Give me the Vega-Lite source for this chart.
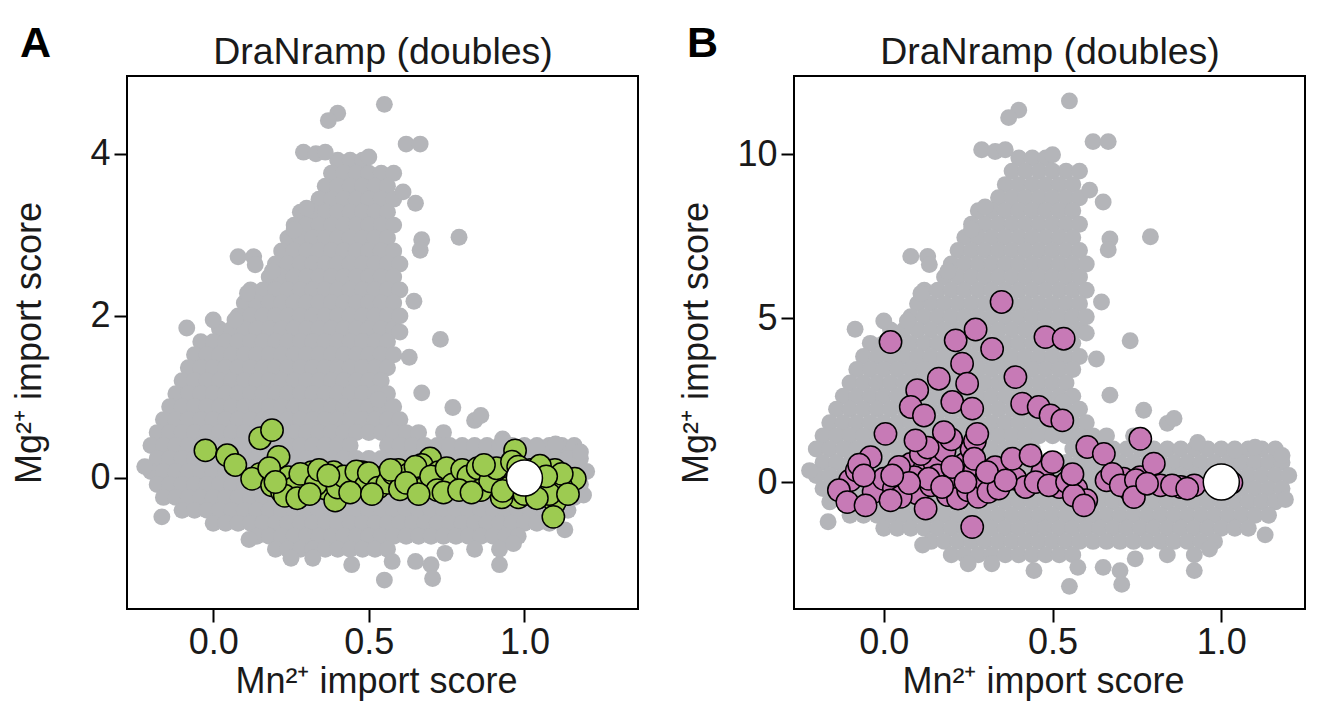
{
"$schema":"https://vega.github.io/schema/vega-lite/v6.json",
"background":"white",
"padding":{"left":10,"top":22,"right":5,"bottom":5},
"config":{"font":"Liberation Sans","view":{"stroke":"black","strokeWidth":2},
"axis":{"domain":false,"grid":false,"ticks":true,"tickColor":"black","tickWidth":2,"tickSize":13,"labelFontSize":36,"labelColor":"#1a1a1a","titleFontSize":36,"titleFontWeight":"normal","titleColor":"#1a1a1a"},
"axisX":{"labelPadding":3,"titlePadding":4},
"axisY":{"labelPadding":4},
"title":{"fontSize":43,"fontWeight":"bold","color":"black","anchor":"start","frame":"group"}},
"bounds":"flush",
"spacing":156,
"datasets":{
"wt":[{"x":1,"y":0}],
"grey":[
{"x":0.4,"a":3.92,"b":9.88},{"x":0.44,"a":3.92,"b":9.88},{"x":0.48,"a":3.92,"b":9.88},
{"x":0.38,"a":3.76,"b":9.48},{"x":0.42,"a":3.76,"b":9.48},{"x":0.46,"a":3.76,"b":9.48},{"x":0.5,"a":3.76,"b":9.48},{"x":0.54,"a":3.76,"b":9.48},{"x":0.58,"a":3.76,"b":9.48},
{"x":0.36,"a":3.6,"b":9.07},{"x":0.4,"a":3.6,"b":9.07},{"x":0.44,"a":3.6,"b":9.07},{"x":0.48,"a":3.6,"b":9.07},{"x":0.52,"a":3.6,"b":9.07},{"x":0.56,"a":3.6,"b":9.07},
{"x":0.34,"a":3.44,"b":8.67},{"x":0.38,"a":3.44,"b":8.67},{"x":0.42,"a":3.44,"b":8.67},{"x":0.46,"a":3.44,"b":8.67},{"x":0.5,"a":3.44,"b":8.67},{"x":0.54,"a":3.44,"b":8.67},{"x":0.58,"a":3.44,"b":8.67},
{"x":0.28,"a":3.28,"b":8.27},{"x":0.32,"a":3.28,"b":8.27},{"x":0.36,"a":3.28,"b":8.27},{"x":0.4,"a":3.28,"b":8.27},{"x":0.44,"a":3.28,"b":8.27},{"x":0.48,"a":3.28,"b":8.27},{"x":0.52,"a":3.28,"b":8.27},{"x":0.56,"a":3.28,"b":8.27},
{"x":0.26,"a":3.12,"b":7.86},{"x":0.3,"a":3.12,"b":7.86},{"x":0.34,"a":3.12,"b":7.86},{"x":0.38,"a":3.12,"b":7.86},{"x":0.42,"a":3.12,"b":7.86},{"x":0.46,"a":3.12,"b":7.86},{"x":0.5,"a":3.12,"b":7.86},{"x":0.54,"a":3.12,"b":7.86},{"x":0.58,"a":3.12,"b":7.86},
{"x":0.24,"a":2.96,"b":7.46},{"x":0.28,"a":2.96,"b":7.46},{"x":0.32,"a":2.96,"b":7.46},{"x":0.36,"a":2.96,"b":7.46},{"x":0.4,"a":2.96,"b":7.46},{"x":0.44,"a":2.96,"b":7.46},{"x":0.48,"a":2.96,"b":7.46},{"x":0.52,"a":2.96,"b":7.46},{"x":0.56,"a":2.96,"b":7.46},
{"x":0.22,"a":2.8,"b":7.06},{"x":0.26,"a":2.8,"b":7.06},{"x":0.3,"a":2.8,"b":7.06},{"x":0.34,"a":2.8,"b":7.06},{"x":0.38,"a":2.8,"b":7.06},{"x":0.42,"a":2.8,"b":7.06},{"x":0.46,"a":2.8,"b":7.06},{"x":0.5,"a":2.8,"b":7.06},{"x":0.54,"a":2.8,"b":7.06},{"x":0.58,"a":2.8,"b":7.06},
{"x":0.2,"a":2.64,"b":6.65},{"x":0.24,"a":2.64,"b":6.65},{"x":0.28,"a":2.64,"b":6.65},{"x":0.32,"a":2.64,"b":6.65},{"x":0.36,"a":2.64,"b":6.65},{"x":0.4,"a":2.64,"b":6.65},{"x":0.44,"a":2.64,"b":6.65},{"x":0.48,"a":2.64,"b":6.65},{"x":0.52,"a":2.64,"b":6.65},{"x":0.56,"a":2.64,"b":6.65},{"x":0.6,"a":2.64,"b":6.65},
{"x":0.18,"a":2.48,"b":6.25},{"x":0.22,"a":2.48,"b":6.25},{"x":0.26,"a":2.48,"b":6.25},{"x":0.3,"a":2.48,"b":6.25},{"x":0.34,"a":2.48,"b":6.25},{"x":0.38,"a":2.48,"b":6.25},{"x":0.42,"a":2.48,"b":6.25},{"x":0.46,"a":2.48,"b":6.25},{"x":0.5,"a":2.48,"b":6.25},{"x":0.54,"a":2.48,"b":6.25},{"x":0.58,"a":2.48,"b":6.25},
{"x":0.12,"a":2.32,"b":5.85},{"x":0.16,"a":2.32,"b":5.85},{"x":0.2,"a":2.32,"b":5.85},{"x":0.24,"a":2.32,"b":5.85},{"x":0.28,"a":2.32,"b":5.85},{"x":0.32,"a":2.32,"b":5.85},{"x":0.36,"a":2.32,"b":5.85},{"x":0.4,"a":2.32,"b":5.85},{"x":0.44,"a":2.32,"b":5.85},{"x":0.48,"a":2.32,"b":5.85},{"x":0.52,"a":2.32,"b":5.85},{"x":0.56,"a":2.32,"b":5.85},{"x":0.6,"a":2.32,"b":5.85},
{"x":0.1,"a":2.16,"b":5.44},{"x":0.14,"a":2.16,"b":5.44},{"x":0.18,"a":2.16,"b":5.44},{"x":0.22,"a":2.16,"b":5.44},{"x":0.26,"a":2.16,"b":5.44},{"x":0.3,"a":2.16,"b":5.44},{"x":0.34,"a":2.16,"b":5.44},{"x":0.38,"a":2.16,"b":5.44},{"x":0.42,"a":2.16,"b":5.44},{"x":0.46,"a":2.16,"b":5.44},{"x":0.5,"a":2.16,"b":5.44},{"x":0.54,"a":2.16,"b":5.44},{"x":0.58,"a":2.16,"b":5.44},
{"x":0.08,"a":2.0,"b":5.04},{"x":0.12,"a":2.0,"b":5.04},{"x":0.16,"a":2.0,"b":5.04},{"x":0.2,"a":2.0,"b":5.04},{"x":0.24,"a":2.0,"b":5.04},{"x":0.28,"a":2.0,"b":5.04},{"x":0.32,"a":2.0,"b":5.04},{"x":0.36,"a":2.0,"b":5.04},{"x":0.4,"a":2.0,"b":5.04},{"x":0.44,"a":2.0,"b":5.04},{"x":0.48,"a":2.0,"b":5.04},{"x":0.52,"a":2.0,"b":5.04},{"x":0.56,"a":2.0,"b":5.04},
{"x":0.02,"a":1.84,"b":4.64},{"x":0.06,"a":1.84,"b":4.64},{"x":0.1,"a":1.84,"b":4.64},{"x":0.14,"a":1.84,"b":4.64},{"x":0.18,"a":1.84,"b":4.64},{"x":0.22,"a":1.84,"b":4.64},{"x":0.26,"a":1.84,"b":4.64},{"x":0.3,"a":1.84,"b":4.64},{"x":0.34,"a":1.84,"b":4.64},{"x":0.38,"a":1.84,"b":4.64},{"x":0.42,"a":1.84,"b":4.64},{"x":0.46,"a":1.84,"b":4.64},{"x":0.5,"a":1.84,"b":4.64},{"x":0.54,"a":1.84,"b":4.64},{"x":0.58,"a":1.84,"b":4.64},
{"x":-0.04,"a":1.68,"b":4.23},{"x":0,"a":1.68,"b":4.23},{"x":0.04,"a":1.68,"b":4.23},{"x":0.08,"a":1.68,"b":4.23},{"x":0.12,"a":1.68,"b":4.23},{"x":0.16,"a":1.68,"b":4.23},{"x":0.2,"a":1.68,"b":4.23},{"x":0.24,"a":1.68,"b":4.23},{"x":0.28,"a":1.68,"b":4.23},{"x":0.32,"a":1.68,"b":4.23},{"x":0.36,"a":1.68,"b":4.23},{"x":0.4,"a":1.68,"b":4.23},{"x":0.44,"a":1.68,"b":4.23},{"x":0.48,"a":1.68,"b":4.23},{"x":0.52,"a":1.68,"b":4.23},{"x":0.56,"a":1.68,"b":4.23},
{"x":-0.06,"a":1.52,"b":3.83},{"x":-0.02,"a":1.52,"b":3.83},{"x":0.02,"a":1.52,"b":3.83},{"x":0.06,"a":1.52,"b":3.83},{"x":0.1,"a":1.52,"b":3.83},{"x":0.14,"a":1.52,"b":3.83},{"x":0.18,"a":1.52,"b":3.83},{"x":0.22,"a":1.52,"b":3.83},{"x":0.26,"a":1.52,"b":3.83},{"x":0.3,"a":1.52,"b":3.83},{"x":0.34,"a":1.52,"b":3.83},{"x":0.38,"a":1.52,"b":3.83},{"x":0.42,"a":1.52,"b":3.83},{"x":0.46,"a":1.52,"b":3.83},{"x":0.5,"a":1.52,"b":3.83},{"x":0.54,"a":1.52,"b":3.83},{"x":0.58,"a":1.52,"b":3.83},
{"x":-0.08,"a":1.36,"b":3.43},{"x":-0.04,"a":1.36,"b":3.43},{"x":0,"a":1.36,"b":3.43},{"x":0.04,"a":1.36,"b":3.43},{"x":0.08,"a":1.36,"b":3.43},{"x":0.12,"a":1.36,"b":3.43},{"x":0.16,"a":1.36,"b":3.43},{"x":0.2,"a":1.36,"b":3.43},{"x":0.24,"a":1.36,"b":3.43},{"x":0.28,"a":1.36,"b":3.43},{"x":0.32,"a":1.36,"b":3.43},{"x":0.36,"a":1.36,"b":3.43},{"x":0.4,"a":1.36,"b":3.43},{"x":0.44,"a":1.36,"b":3.43},{"x":0.48,"a":1.36,"b":3.43},{"x":0.52,"a":1.36,"b":3.43},{"x":0.56,"a":1.36,"b":3.43},
{"x":-0.1,"a":1.2,"b":3.02},{"x":-0.06,"a":1.2,"b":3.02},{"x":-0.02,"a":1.2,"b":3.02},{"x":0.02,"a":1.2,"b":3.02},{"x":0.06,"a":1.2,"b":3.02},{"x":0.1,"a":1.2,"b":3.02},{"x":0.14,"a":1.2,"b":3.02},{"x":0.18,"a":1.2,"b":3.02},{"x":0.22,"a":1.2,"b":3.02},{"x":0.26,"a":1.2,"b":3.02},{"x":0.3,"a":1.2,"b":3.02},{"x":0.34,"a":1.2,"b":3.02},{"x":0.38,"a":1.2,"b":3.02},{"x":0.42,"a":1.2,"b":3.02},{"x":0.46,"a":1.2,"b":3.02},{"x":0.5,"a":1.2,"b":3.02},{"x":0.54,"a":1.2,"b":3.02},
{"x":-0.12,"a":1.04,"b":2.62},{"x":-0.08,"a":1.04,"b":2.62},{"x":-0.04,"a":1.04,"b":2.62},{"x":0,"a":1.04,"b":2.62},{"x":0.04,"a":1.04,"b":2.62},{"x":0.08,"a":1.04,"b":2.62},{"x":0.12,"a":1.04,"b":2.62},{"x":0.16,"a":1.04,"b":2.62},{"x":0.2,"a":1.04,"b":2.62},{"x":0.24,"a":1.04,"b":2.62},{"x":0.28,"a":1.04,"b":2.62},{"x":0.32,"a":1.04,"b":2.62},{"x":0.36,"a":1.04,"b":2.62},{"x":0.4,"a":1.04,"b":2.62},{"x":0.44,"a":1.04,"b":2.62},{"x":0.48,"a":1.04,"b":2.62},{"x":0.52,"a":1.04,"b":2.62},{"x":0.56,"a":1.04,"b":2.62},
{"x":-0.14,"a":0.88,"b":2.22},{"x":-0.1,"a":0.88,"b":2.22},{"x":-0.06,"a":0.88,"b":2.22},{"x":-0.02,"a":0.88,"b":2.22},{"x":0.02,"a":0.88,"b":2.22},{"x":0.06,"a":0.88,"b":2.22},{"x":0.1,"a":0.88,"b":2.22},{"x":0.14,"a":0.88,"b":2.22},{"x":0.18,"a":0.88,"b":2.22},{"x":0.22,"a":0.88,"b":2.22},{"x":0.26,"a":0.88,"b":2.22},{"x":0.3,"a":0.88,"b":2.22},{"x":0.34,"a":0.88,"b":2.22},{"x":0.38,"a":0.88,"b":2.22},{"x":0.42,"a":0.88,"b":2.22},{"x":0.46,"a":0.88,"b":2.22},{"x":0.5,"a":0.88,"b":2.22},{"x":0.54,"a":0.88,"b":2.22},{"x":0.58,"a":0.88,"b":2.22},
{"x":-0.16,"a":0.72,"b":1.81},{"x":-0.12,"a":0.72,"b":1.81},{"x":-0.08,"a":0.72,"b":1.81},{"x":-0.04,"a":0.72,"b":1.81},{"x":0,"a":0.72,"b":1.81},{"x":0.04,"a":0.72,"b":1.81},{"x":0.08,"a":0.72,"b":1.81},{"x":0.12,"a":0.72,"b":1.81},{"x":0.16,"a":0.72,"b":1.81},{"x":0.2,"a":0.72,"b":1.81},{"x":0.24,"a":0.72,"b":1.81},{"x":0.28,"a":0.72,"b":1.81},{"x":0.32,"a":0.72,"b":1.81},{"x":0.36,"a":0.72,"b":1.81},{"x":0.4,"a":0.72,"b":1.81},{"x":0.44,"a":0.72,"b":1.81},{"x":0.48,"a":0.72,"b":1.81},{"x":0.52,"a":0.72,"b":1.81},{"x":0.56,"a":0.72,"b":1.81},{"x":0.6,"a":0.72,"b":1.81},
{"x":-0.18,"a":0.56,"b":1.41},{"x":-0.14,"a":0.56,"b":1.41},{"x":-0.1,"a":0.56,"b":1.41},{"x":-0.06,"a":0.56,"b":1.41},{"x":-0.02,"a":0.56,"b":1.41},{"x":0.02,"a":0.56,"b":1.41},{"x":0.06,"a":0.56,"b":1.41},{"x":0.1,"a":0.56,"b":1.41},{"x":0.14,"a":0.56,"b":1.41},{"x":0.18,"a":0.56,"b":1.41},{"x":0.22,"a":0.56,"b":1.41},{"x":0.26,"a":0.56,"b":1.41},{"x":0.3,"a":0.56,"b":1.41},{"x":0.34,"a":0.56,"b":1.41},{"x":0.38,"a":0.56,"b":1.41},{"x":0.42,"a":0.56,"b":1.41},{"x":0.46,"a":0.56,"b":1.41},{"x":0.5,"a":0.56,"b":1.41},{"x":0.54,"a":0.56,"b":1.41},{"x":0.58,"a":0.56,"b":1.41},{"x":0.62,"a":0.56,"b":1.41},{"x":0.66,"a":0.56,"b":1.41},{"x":0.74,"a":0.56,"b":1.41},
{"x":-0.2,"a":0.4,"b":1.01},{"x":-0.16,"a":0.4,"b":1.01},{"x":-0.12,"a":0.4,"b":1.01},{"x":-0.08,"a":0.4,"b":1.01},{"x":-0.04,"a":0.4,"b":1.01},{"x":0,"a":0.4,"b":1.01},{"x":0.04,"a":0.4,"b":1.01},{"x":0.08,"a":0.4,"b":1.01},{"x":0.12,"a":0.4,"b":1.01},{"x":0.16,"a":0.4,"b":1.01},{"x":0.2,"a":0.4,"b":1.01},{"x":0.24,"a":0.4,"b":1.01},{"x":0.28,"a":0.4,"b":1.01},{"x":0.32,"a":0.4,"b":1.01},{"x":0.36,"a":0.4,"b":1.01},{"x":0.4,"a":0.4,"b":1.01},{"x":0.44,"a":0.4,"b":1.01},{"x":0.56,"a":0.4,"b":1.01},{"x":0.6,"a":0.4,"b":1.01},{"x":0.64,"a":0.4,"b":1.01},{"x":0.68,"a":0.4,"b":1.01},{"x":0.72,"a":0.4,"b":1.01},{"x":0.76,"a":0.4,"b":1.01},{"x":0.8,"a":0.4,"b":1.01},{"x":0.84,"a":0.4,"b":1.01},{"x":0.88,"a":0.4,"b":1.01},{"x":0.92,"a":0.4,"b":1.01},{"x":0.96,"a":0.4,"b":1.01},{"x":1,"a":0.4,"b":1.01},{"x":1.04,"a":0.4,"b":1.01},{"x":1.08,"a":0.4,"b":1.01},{"x":1.12,"a":0.4,"b":1.01},{"x":1.16,"a":0.4,"b":1.01},
{"x":-0.18,"a":0.24,"b":0.6},{"x":-0.14,"a":0.24,"b":0.6},{"x":-0.1,"a":0.24,"b":0.6},{"x":-0.06,"a":0.24,"b":0.6},{"x":-0.02,"a":0.24,"b":0.6},{"x":0.02,"a":0.24,"b":0.6},{"x":0.06,"a":0.24,"b":0.6},{"x":0.1,"a":0.24,"b":0.6},{"x":0.14,"a":0.24,"b":0.6},{"x":0.18,"a":0.24,"b":0.6},{"x":0.22,"a":0.24,"b":0.6},{"x":0.26,"a":0.24,"b":0.6},{"x":0.3,"a":0.24,"b":0.6},{"x":0.34,"a":0.24,"b":0.6},{"x":0.38,"a":0.24,"b":0.6},{"x":0.42,"a":0.24,"b":0.6},{"x":0.46,"a":0.24,"b":0.6},{"x":0.5,"a":0.24,"b":0.6},{"x":0.54,"a":0.24,"b":0.6},{"x":0.58,"a":0.24,"b":0.6},{"x":0.62,"a":0.24,"b":0.6},{"x":0.66,"a":0.24,"b":0.6},{"x":0.7,"a":0.24,"b":0.6},{"x":0.74,"a":0.24,"b":0.6},{"x":0.78,"a":0.24,"b":0.6},{"x":0.82,"a":0.24,"b":0.6},{"x":0.86,"a":0.24,"b":0.6},{"x":0.9,"a":0.24,"b":0.6},{"x":0.94,"a":0.24,"b":0.6},{"x":0.98,"a":0.24,"b":0.6},{"x":1.02,"a":0.24,"b":0.6},{"x":1.06,"a":0.24,"b":0.6},{"x":1.1,"a":0.24,"b":0.6},{"x":1.14,"a":0.24,"b":0.6},{"x":1.18,"a":0.24,"b":0.6},
{"x":-0.2,"a":0.08,"b":0.2},{"x":-0.16,"a":0.08,"b":0.2},{"x":-0.12,"a":0.08,"b":0.2},{"x":-0.08,"a":0.08,"b":0.2},{"x":-0.04,"a":0.08,"b":0.2},{"x":0,"a":0.08,"b":0.2},{"x":0.04,"a":0.08,"b":0.2},{"x":0.08,"a":0.08,"b":0.2},{"x":0.12,"a":0.08,"b":0.2},{"x":0.16,"a":0.08,"b":0.2},{"x":0.2,"a":0.08,"b":0.2},{"x":0.24,"a":0.08,"b":0.2},{"x":0.28,"a":0.08,"b":0.2},{"x":0.32,"a":0.08,"b":0.2},{"x":0.36,"a":0.08,"b":0.2},{"x":0.4,"a":0.08,"b":0.2},{"x":0.44,"a":0.08,"b":0.2},{"x":0.48,"a":0.08,"b":0.2},{"x":0.52,"a":0.08,"b":0.2},{"x":0.56,"a":0.08,"b":0.2},{"x":0.6,"a":0.08,"b":0.2},{"x":0.64,"a":0.08,"b":0.2},{"x":0.68,"a":0.08,"b":0.2},{"x":0.72,"a":0.08,"b":0.2},{"x":0.76,"a":0.08,"b":0.2},{"x":0.8,"a":0.08,"b":0.2},{"x":0.84,"a":0.08,"b":0.2},{"x":0.88,"a":0.08,"b":0.2},{"x":0.92,"a":0.08,"b":0.2},{"x":0.96,"a":0.08,"b":0.2},{"x":1,"a":0.08,"b":0.2},{"x":1.04,"a":0.08,"b":0.2},{"x":1.08,"a":0.08,"b":0.2},{"x":1.12,"a":0.08,"b":0.2},{"x":1.16,"a":0.08,"b":0.2},{"x":1.2,"a":0.08,"b":0.2},
{"x":-0.18,"a":-0.08,"b":-0.2},{"x":-0.14,"a":-0.08,"b":-0.2},{"x":-0.1,"a":-0.08,"b":-0.2},{"x":-0.06,"a":-0.08,"b":-0.2},{"x":-0.02,"a":-0.08,"b":-0.2},{"x":0.02,"a":-0.08,"b":-0.2},{"x":0.06,"a":-0.08,"b":-0.2},{"x":0.1,"a":-0.08,"b":-0.2},{"x":0.14,"a":-0.08,"b":-0.2},{"x":0.18,"a":-0.08,"b":-0.2},{"x":0.22,"a":-0.08,"b":-0.2},{"x":0.26,"a":-0.08,"b":-0.2},{"x":0.3,"a":-0.08,"b":-0.2},{"x":0.34,"a":-0.08,"b":-0.2},{"x":0.38,"a":-0.08,"b":-0.2},{"x":0.42,"a":-0.08,"b":-0.2},{"x":0.46,"a":-0.08,"b":-0.2},{"x":0.5,"a":-0.08,"b":-0.2},{"x":0.54,"a":-0.08,"b":-0.2},{"x":0.58,"a":-0.08,"b":-0.2},{"x":0.62,"a":-0.08,"b":-0.2},{"x":0.66,"a":-0.08,"b":-0.2},{"x":0.7,"a":-0.08,"b":-0.2},{"x":0.74,"a":-0.08,"b":-0.2},{"x":0.78,"a":-0.08,"b":-0.2},{"x":0.82,"a":-0.08,"b":-0.2},{"x":0.86,"a":-0.08,"b":-0.2},{"x":0.9,"a":-0.08,"b":-0.2},{"x":0.94,"a":-0.08,"b":-0.2},{"x":0.98,"a":-0.08,"b":-0.2},{"x":1.02,"a":-0.08,"b":-0.2},{"x":1.06,"a":-0.08,"b":-0.2},{"x":1.1,"a":-0.08,"b":-0.2},{"x":1.14,"a":-0.08,"b":-0.2},{"x":1.18,"a":-0.08,"b":-0.2},
{"x":-0.16,"a":-0.24,"b":-0.6},{"x":-0.12,"a":-0.24,"b":-0.6},{"x":-0.08,"a":-0.24,"b":-0.6},{"x":-0.04,"a":-0.24,"b":-0.6},{"x":0,"a":-0.24,"b":-0.6},{"x":0.04,"a":-0.24,"b":-0.6},{"x":0.08,"a":-0.24,"b":-0.6},{"x":0.12,"a":-0.24,"b":-0.6},{"x":0.16,"a":-0.24,"b":-0.6},{"x":0.2,"a":-0.24,"b":-0.6},{"x":0.24,"a":-0.24,"b":-0.6},{"x":0.28,"a":-0.24,"b":-0.6},{"x":0.32,"a":-0.24,"b":-0.6},{"x":0.36,"a":-0.24,"b":-0.6},{"x":0.4,"a":-0.24,"b":-0.6},{"x":0.44,"a":-0.24,"b":-0.6},{"x":0.48,"a":-0.24,"b":-0.6},{"x":0.52,"a":-0.24,"b":-0.6},{"x":0.56,"a":-0.24,"b":-0.6},{"x":0.6,"a":-0.24,"b":-0.6},{"x":0.64,"a":-0.24,"b":-0.6},{"x":0.68,"a":-0.24,"b":-0.6},{"x":0.72,"a":-0.24,"b":-0.6},{"x":0.76,"a":-0.24,"b":-0.6},{"x":0.8,"a":-0.24,"b":-0.6},{"x":0.84,"a":-0.24,"b":-0.6},{"x":0.88,"a":-0.24,"b":-0.6},{"x":0.92,"a":-0.24,"b":-0.6},{"x":0.96,"a":-0.24,"b":-0.6},{"x":1,"a":-0.24,"b":-0.6},{"x":1.04,"a":-0.24,"b":-0.6},{"x":1.08,"a":-0.24,"b":-0.6},{"x":1.12,"a":-0.24,"b":-0.6},{"x":1.16,"a":-0.24,"b":-0.6},
{"x":-0.1,"a":-0.4,"b":-1.01},{"x":-0.06,"a":-0.4,"b":-1.01},{"x":-0.02,"a":-0.4,"b":-1.01},{"x":0.02,"a":-0.4,"b":-1.01},{"x":0.06,"a":-0.4,"b":-1.01},{"x":0.1,"a":-0.4,"b":-1.01},{"x":0.14,"a":-0.4,"b":-1.01},{"x":0.18,"a":-0.4,"b":-1.01},{"x":0.22,"a":-0.4,"b":-1.01},{"x":0.26,"a":-0.4,"b":-1.01},{"x":0.3,"a":-0.4,"b":-1.01},{"x":0.34,"a":-0.4,"b":-1.01},{"x":0.38,"a":-0.4,"b":-1.01},{"x":0.42,"a":-0.4,"b":-1.01},{"x":0.46,"a":-0.4,"b":-1.01},{"x":0.5,"a":-0.4,"b":-1.01},{"x":0.54,"a":-0.4,"b":-1.01},{"x":0.58,"a":-0.4,"b":-1.01},{"x":0.62,"a":-0.4,"b":-1.01},{"x":0.66,"a":-0.4,"b":-1.01},{"x":0.7,"a":-0.4,"b":-1.01},{"x":0.74,"a":-0.4,"b":-1.01},{"x":0.78,"a":-0.4,"b":-1.01},{"x":0.82,"a":-0.4,"b":-1.01},{"x":0.86,"a":-0.4,"b":-1.01},{"x":0.9,"a":-0.4,"b":-1.01},{"x":0.94,"a":-0.4,"b":-1.01},{"x":0.98,"a":-0.4,"b":-1.01},{"x":1.02,"a":-0.4,"b":-1.01},{"x":1.06,"a":-0.4,"b":-1.01},{"x":1.1,"a":-0.4,"b":-1.01},{"x":1.14,"a":-0.4,"b":-1.01},
{"x":0,"a":-0.56,"b":-1.41},{"x":0.04,"a":-0.56,"b":-1.41},{"x":0.08,"a":-0.56,"b":-1.41},{"x":0.12,"a":-0.56,"b":-1.41},{"x":0.16,"a":-0.56,"b":-1.41},{"x":0.2,"a":-0.56,"b":-1.41},{"x":0.24,"a":-0.56,"b":-1.41},{"x":0.28,"a":-0.56,"b":-1.41},{"x":0.32,"a":-0.56,"b":-1.41},{"x":0.36,"a":-0.56,"b":-1.41},{"x":0.4,"a":-0.56,"b":-1.41},{"x":0.44,"a":-0.56,"b":-1.41},{"x":0.48,"a":-0.56,"b":-1.41},{"x":0.52,"a":-0.56,"b":-1.41},{"x":0.56,"a":-0.56,"b":-1.41},{"x":0.6,"a":-0.56,"b":-1.41},{"x":0.64,"a":-0.56,"b":-1.41},{"x":0.68,"a":-0.56,"b":-1.41},{"x":0.72,"a":-0.56,"b":-1.41},{"x":0.76,"a":-0.56,"b":-1.41},{"x":0.8,"a":-0.56,"b":-1.41},{"x":0.84,"a":-0.56,"b":-1.41},{"x":0.88,"a":-0.56,"b":-1.41},{"x":0.92,"a":-0.56,"b":-1.41},{"x":0.96,"a":-0.56,"b":-1.41},{"x":1,"a":-0.56,"b":-1.41},{"x":1.04,"a":-0.56,"b":-1.41},{"x":1.08,"a":-0.56,"b":-1.41},
{"x":0.14,"a":-0.72,"b":-1.81},{"x":0.18,"a":-0.72,"b":-1.81},{"x":0.22,"a":-0.72,"b":-1.81},{"x":0.26,"a":-0.72,"b":-1.81},{"x":0.3,"a":-0.72,"b":-1.81},{"x":0.34,"a":-0.72,"b":-1.81},{"x":0.38,"a":-0.72,"b":-1.81},{"x":0.42,"a":-0.72,"b":-1.81},{"x":0.46,"a":-0.72,"b":-1.81},{"x":0.5,"a":-0.72,"b":-1.81},{"x":0.54,"a":-0.72,"b":-1.81},{"x":0.58,"a":-0.72,"b":-1.81},{"x":0.62,"a":-0.72,"b":-1.81},{"x":0.66,"a":-0.72,"b":-1.81},{"x":0.7,"a":-0.72,"b":-1.81},{"x":0.74,"a":-0.72,"b":-1.81},{"x":0.78,"a":-0.72,"b":-1.81},{"x":0.82,"a":-0.72,"b":-1.81},{"x":0.86,"a":-0.72,"b":-1.81},{"x":0.9,"a":-0.72,"b":-1.81},{"x":0.94,"a":-0.72,"b":-1.81},{"x":0.98,"a":-0.72,"b":-1.81},
{"x":0.2,"a":-0.88,"b":-2.22},{"x":0.24,"a":-0.88,"b":-2.22},{"x":0.28,"a":-0.88,"b":-2.22},{"x":0.32,"a":-0.88,"b":-2.22},{"x":0.36,"a":-0.88,"b":-2.22},{"x":0.4,"a":-0.88,"b":-2.22},{"x":0.44,"a":-0.88,"b":-2.22},{"x":0.48,"a":-0.88,"b":-2.22},{"x":0.52,"a":-0.88,"b":-2.22},{"x":0.56,"a":-0.88,"b":-2.22},{"x":0.84,"a":-0.88,"b":-2.22},{"x":0.92,"a":-0.88,"b":-2.22},
{"x":0.55,"a":4.61,"b":11.62},{"x":0.4,"a":4.5,"b":11.34},{"x":0.37,"a":4.41,"b":11.11},{"x":0.29,"a":4.02,"b":10.13},{"x":0.33,"a":4.0,"b":10.08},{"x":0.36,"a":4.02,"b":10.13},{"x":0.5,"a":3.96,"b":9.98},{"x":0.62,"a":4.12,"b":10.38},{"x":0.665,"a":4.12,"b":10.38},{"x":0.61,"a":3.53,"b":8.9},{"x":0.65,"a":3.39,"b":8.54},{"x":0.79,"a":2.97,"b":7.48},{"x":0.67,"a":2.94,"b":7.41},{"x":0.665,"a":2.81,"b":7.08},{"x":0.3,"a":3.33,"b":8.39},{"x":0.26,"a":3.06,"b":7.71},{"x":0.08,"a":2.73,"b":6.88},{"x":0.13,"a":2.73,"b":6.88},{"x":0.135,"a":2.63,"b":6.63},{"x":0.19,"a":2.55,"b":6.43},{"x":0.11,"a":2.28,"b":5.75},{"x":-0.085,"a":1.85,"b":4.66},{"x":0,"a":1.95,"b":4.91},{"x":0.07,"a":1.95,"b":4.91},{"x":0.645,"a":2.18,"b":5.49},{"x":0.73,"a":1.71,"b":4.31},{"x":0.63,"a":1.49,"b":3.75},{"x":0.67,"a":1.05,"b":2.65},{"x":0.77,"a":0.87,"b":2.19},{"x":0.84,"a":0.71,"b":1.79},{"x":0.86,"a":0.77,"b":1.94},{"x":0.93,"a":0.48,"b":1.21},{"x":1.04,"a":0.38,"b":0.96},{"x":1.1,"a":0.42,"b":1.06},{"x":1.18,"a":0.32,"b":0.81},{"x":-0.165,"a":-0.48,"b":-1.21},{"x":0.115,"a":-0.76,"b":-1.92},{"x":0.25,"a":-0.99,"b":-2.49},{"x":0.32,"a":-0.99,"b":-2.49},{"x":0.445,"a":-1.07,"b":-2.7},{"x":0.55,"a":-1.26,"b":-3.18},{"x":0.575,"a":-1.03,"b":-2.6},{"x":0.65,"a":-1.03,"b":-2.6},{"x":0.7,"a":-1.07,"b":-2.7},{"x":0.705,"a":-1.24,"b":-3.12},{"x":0.745,"a":-0.93,"b":-2.34},{"x":0.92,"a":-1.07,"b":-2.7},{"x":0.965,"a":-0.81,"b":-2.04},{"x":1.13,"a":-0.64,"b":-1.61},{"x":1.19,"a":-0.21,"b":-0.53},{"x":-0.22,"a":0.14,"b":0.35},{"x":0.53,"a":0.97,"b":2.44},{"x":0.6,"a":1.8,"b":4.54},{"x":0.6,"a":2.0,"b":5.04}
],
"green":[
{"x":-0.025,"y":0.34},{"x":0.045,"y":0.28},{"x":0.071,"y":0.16},{"x":0.151,"y":0.49},{"x":0.189,"y":0.59},{"x":0.21,"y":0.26},{"x":0.151,"y":0.05},{"x":0.125,"y":-0.01},{"x":0.189,"y":-0.09},{"x":0.242,"y":0.01},{"x":0.221,"y":-0.17},{"x":0.296,"y":-0.01},{"x":0.317,"y":0.07},{"x":0.36,"y":-0.13},{"x":0.392,"y":-0.28},{"x":0.387,"y":0.07},{"x":0.445,"y":-0.09},{"x":0.478,"y":0.07},{"x":0.52,"y":-0.01},{"x":0.552,"y":0.02},{"x":0.595,"y":0.1},{"x":0.617,"y":-0.09},{"x":0.66,"y":-0.01},{"x":0.697,"y":0.24},{"x":0.67,"y":0.16},{"x":0.724,"y":0.07},{"x":0.745,"y":-0.05},{"x":0.788,"y":0.05},{"x":0.809,"y":-0.13},{"x":0.873,"y":0.03},{"x":0.841,"y":-0.09},{"x":0.916,"y":-0.09},{"x":0.938,"y":0.07},{"x":0.97,"y":0.34},{"x":0.981,"y":-0.24},{"x":0.927,"y":-0.24},{"x":1.034,"y":-0.17},{"x":1.066,"y":0.07},{"x":1.098,"y":0.1},{"x":1.162,"y":-0.01},{"x":1.119,"y":-0.11},{"x":1.098,"y":-0.3},{"x":1.093,"y":-0.48},{"x":1.055,"y":-0.09},
{"x":0.26,"y":-0.12},{"x":0.28,"y":0.05},{"x":0.33,"y":-0.08},{"x":0.34,"y":0.1},{"x":0.4,"y":-0.12},{"x":0.42,"y":0.02},{"x":0.46,"y":0.08},{"x":0.49,"y":-0.1},{"x":0.5,"y":0.06},{"x":0.53,"y":-0.12},{"x":0.56,"y":-0.06},{"x":0.58,"y":0.05},{"x":0.6,"y":-0.14},{"x":0.63,"y":0.05},{"x":0.65,"y":0.14},{"x":0.68,"y":-0.12},{"x":0.7,"y":0.02},{"x":0.72,"y":-0.15},{"x":0.75,"y":0.12},{"x":0.77,"y":-0.08},{"x":0.8,"y":0.1},{"x":0.82,"y":0.02},{"x":0.85,"y":0.12},{"x":0.86,"y":-0.15},{"x":0.89,"y":-0.04},{"x":0.91,"y":0.12},{"x":0.95,"y":-0.12},{"x":0.96,"y":0.2},{"x":1.0,"y":-0.2},{"x":1.02,"y":0.1},{"x":1.05,"y":0.15},{"x":1.08,"y":-0.2},{"x":1.12,"y":0.05},{"x":1.14,"y":-0.2},{"x":0.23,"y":-0.22},{"x":0.27,"y":-0.25},{"x":0.18,"y":0.12},{"x":0.2,"y":-0.05},{"x":0.44,"y":-0.18},{"x":0.37,"y":0.03},{"x":0.31,"y":-0.2},{"x":0.51,"y":-0.2},{"x":0.57,"y":0.1},{"x":0.62,"y":-0.06},{"x":0.66,"y":-0.2},{"x":0.74,"y":-0.18},{"x":0.79,"y":-0.15},{"x":0.83,"y":-0.18},{"x":0.87,"y":0.16},{"x":0.93,"y":-0.16},{"x":0.98,"y":0.14},{"x":1.04,"y":-0.25},{"x":1.07,"y":0.02}
],
"pink":[
{"x":-0.1,"y":0.05},{"x":-0.08,"y":0.35},{"x":-0.03,"y":-0.3},{"x":0.0,"y":0.1},{"x":0.03,"y":-0.2},{"x":0.06,"y":0.3},{"x":0.08,"y":0.55},{"x":0.1,"y":-0.35},{"x":0.12,"y":0.4},{"x":0.14,"y":-0.1},{"x":0.15,"y":0.6},{"x":0.16,"y":0.2},{"x":0.19,"y":-0.4},{"x":0.21,"y":0.15},{"x":0.22,"y":-0.5},{"x":0.24,"y":0.55},{"x":0.25,"y":-0.25},{"x":0.27,"y":0.35},{"x":0.28,"y":-0.45},{"x":0.3,"y":0.05},{"x":0.31,"y":-0.3},{"x":0.33,"y":0.45},{"x":0.34,"y":-0.2},{"x":0.05,"y":-0.45},{"x":0.09,"y":0.15},{"x":0.11,"y":0.85},{"x":0.18,"y":0.95},{"x":0.2,"y":1.3},{"x":0.26,"y":1.0},{"x":0.13,"y":1.05},{"x":0.27,"y":1.25},{"x":0.39,"y":0.1},{"x":0.42,"y":-0.15},{"x":0.47,"y":0.3},{"x":0.52,"y":-0.15},{"x":0.57,"y":-0.2},{"x":0.6,"y":-0.55},{"x":0.66,"y":0.05},{"x":0.71,"y":0.1},{"x":0.73,"y":-0.25},{"x":0.76,"y":0.15},{"x":0.82,"y":-0.1},{"x":0.88,"y":-0.15},{"x":0.92,"y":-0.1},{"x":1.03,"y":-0.02},
{"x":0.02,"y":4.27},{"x":0.213,"y":4.32},{"x":0.272,"y":4.65},{"x":0.321,"y":4.06},{"x":0.479,"y":4.42},{"x":0.533,"y":4.37},{"x":0.349,"y":5.49},{"x":0.232,"y":3.61},{"x":0.39,"y":3.2},{"x":0.163,"y":3.15},{"x":0.247,"y":3.0},{"x":0.099,"y":2.8},{"x":0.203,"y":2.44},{"x":0.262,"y":2.24},{"x":0.08,"y":2.29},{"x":0.119,"y":2.03},{"x":0.41,"y":2.39},{"x":0.459,"y":2.29},{"x":0.494,"y":2.03},{"x":0.529,"y":1.88},{"x":0.005,"y":1.47},{"x":0.094,"y":1.27},{"x":0.178,"y":1.52},{"x":0.277,"y":1.47},{"x":0.603,"y":1.07},{"x":0.76,"y":1.32},{"x":0.652,"y":0.86},{"x":0.381,"y":0.71},{"x":0.435,"y":0.81},{"x":0.5,"y":0.61},{"x":0.268,"y":0.71},{"x":0.203,"y":0.46},{"x":0.045,"y":0.46},{"x":-0.039,"y":0.76},{"x":-0.073,"y":0.53},{"x":-0.059,"y":0.2},{"x":-0.133,"y":-0.25},{"x":-0.108,"y":-0.61},{"x":-0.054,"y":-0.71},{"x":0.02,"y":-0.56},{"x":0.124,"y":-0.81},{"x":0.133,"y":0.1},{"x":0.075,"y":-0.03},{"x":0.025,"y":0.2},{"x":0.173,"y":-0.15},{"x":0.242,"y":0.0},{"x":0.306,"y":0.3},{"x":0.361,"y":0.05},{"x":0.45,"y":0.0},{"x":0.489,"y":-0.1},{"x":0.543,"y":0.0},{"x":0.563,"y":-0.41},{"x":0.593,"y":-0.71},{"x":0.559,"y":0.24},{"x":0.677,"y":0.25},{"x":0.702,"y":-0.1},{"x":0.747,"y":0.06},{"x":0.741,"y":-0.46},{"x":0.8,"y":0.56},{"x":0.78,"y":-0.05},{"x":0.854,"y":-0.1},{"x":0.899,"y":-0.2},{"x":0.262,"y":-1.37}
]
},
"hconcat":[
{"width":511,"height":533,
"title":{"text":"A","dx":-107,"dy":37},
"resolve":{"axis":{"x":"independent"}},
"layer":[
{"data":{"name":"grey"},"mark":{"type":"circle","size":285,"color":"#b4b5b9","opacity":1},
"encoding":{"x":{"field":"x","type":"quantitative","scale":{"domain":[-0.277,1.365],"nice":false,"zero":false},"axis":{"values":[0,0.5,1],"format":".1f","title":"Mn²⁺ import score","titleX":249}},
"y":{"field":"a","type":"quantitative","scale":{"domain":[-1.617,4.96],"nice":false,"zero":false},"axis":{"values":[0,2,4],"title":"Mg²⁺ import score","titleX":-79}}}},
{"data":{"name":"green"},"mark":{"type":"circle","size":500,"color":"#9dcb51","opacity":1,"stroke":"black","strokeWidth":1.5},
"encoding":{"x":{"field":"x","type":"quantitative","axis":{"orient":"top","title":"DraNramp (doubles)","labels":false,"ticks":false,"domain":false,"titlePadding":5,"titleFontSize":37.5}},
"y":{"field":"y","type":"quantitative","axis":{"values":[0,2,4],"title":"Mg²⁺ import score","titleX":-79}}}},
{"data":{"name":"wt"},"mark":{"type":"circle","size":1300,"color":"white","opacity":1,"stroke":"black","strokeWidth":1.5},
"encoding":{"x":{"field":"x","type":"quantitative","axis":null},
"y":{"field":"y","type":"quantitative","axis":{"values":[0,2,4],"title":"Mg²⁺ import score","titleX":-79}}}}
]},
{"width":511,"height":533,
"title":{"text":"B","dx":-107,"dy":37},
"resolve":{"axis":{"x":"independent"}},
"layer":[
{"data":{"name":"grey"},"mark":{"type":"circle","size":285,"color":"#b4b5b9","opacity":1},
"encoding":{"x":{"field":"x","type":"quantitative","scale":{"domain":[-0.266,1.248],"nice":false,"zero":false},"axis":{"values":[0,0.5,1],"format":".1f","title":"Mn²⁺ import score","titleX":249}},
"y":{"field":"b","type":"quantitative","scale":{"domain":[-3.87,12.38],"nice":false,"zero":false},"axis":{"values":[0,5,10],"title":"Mg²⁺ import score","titleX":-79}}}},
{"data":{"name":"pink"},"mark":{"type":"circle","size":500,"color":"#c77ab6","opacity":1,"stroke":"black","strokeWidth":1.5},
"encoding":{"x":{"field":"x","type":"quantitative","axis":{"orient":"top","title":"DraNramp (doubles)","labels":false,"ticks":false,"domain":false,"titlePadding":5,"titleFontSize":37.5}},
"y":{"field":"y","type":"quantitative","axis":{"values":[0,5,10],"title":"Mg²⁺ import score","titleX":-79}}}},
{"data":{"name":"wt"},"mark":{"type":"circle","size":1300,"color":"white","opacity":1,"stroke":"black","strokeWidth":1.5},
"encoding":{"x":{"field":"x","type":"quantitative","axis":null},
"y":{"field":"y","type":"quantitative","axis":{"values":[0,5,10],"title":"Mg²⁺ import score","titleX":-79}}}}
]}
]
}
